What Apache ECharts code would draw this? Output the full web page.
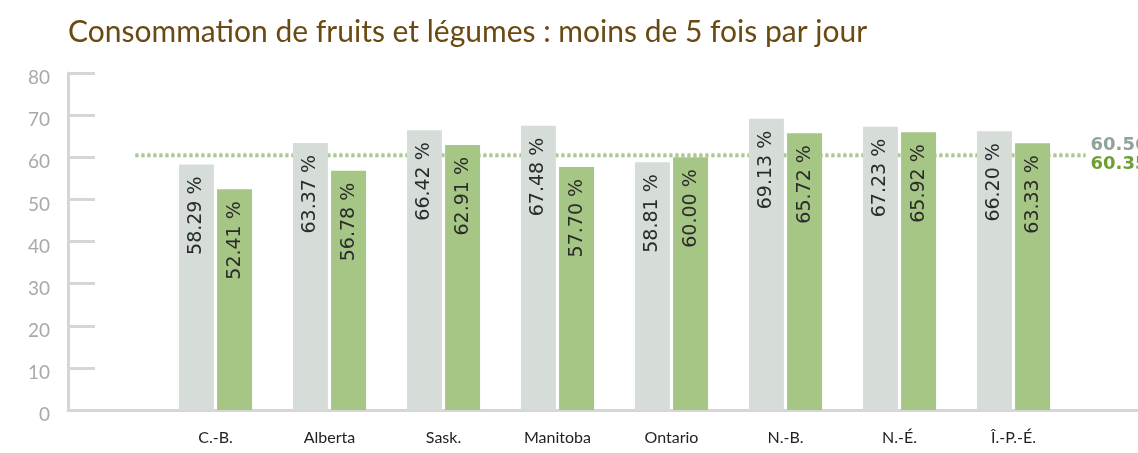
<!DOCTYPE html>
<html>
<head>
<meta charset="utf-8">
<script src="https://cdn.jsdelivr.net/npm/echarts@6/dist/echarts.min.js"></script>
<style>
	html, body { margin: 0; padding: 0; background: #fff; }
	#chart { width: 1138px; height: 453px; }
</style>
</head>
<body>
<div id="chart"></div>
<script>
	// data
	var provinces = ['', 'C.-B.', 'Alberta', 'Sask.', 'Manitoba', 'Ontario', 'N.-B.', 'N.-É.', 'Î.-P.-É.']
	var serieGrise = [null, 58.29, 63.37, 66.42, 67.48, 58.81, 69.13, 67.23, 66.20]
	var serieVerte = [null, 52.41, 56.78, 62.91, 57.70, 60.00, 65.72, 65.92, 63.33]
	var moyenneGrise = 60.56
	var moyenneVerte = 60.35
	var yMin = 0, yMax = 80, yStep = 10

	var titre = 'Consommation de fruits et légumes : moins de 5 fois par jour'

	var chart = echarts.init(document.getElementById('chart'))

	// bar labels, rotated, reading bottom to top
	function barLabel() {
		return {
			show: true,
			position: 'insideTop',
			rotate: 90,
			align: 'right',
			verticalAlign: 'middle',
			distance: 12,
			color: '#2b2b2b',
			fontSize: 19,
			fontFamily: 'DejaVu Sans',
			formatter: function (p) {
				return p.value.toFixed(2) + ' %'
			}
		}
	}

	// dotted average line, drawn over the plain grid (x from 0 to 1)
	var lineStart = 0.063, lineEnd = 0.951
	function avgLine(value, color, textColor, width, dy, z) {
		return {
			type: 'line',
			xAxisIndex: 1,
			yAxisIndex: 1,
			data: [[lineStart, value], [lineEnd, value]],
			symbol: 'none',
			silent: true,
			z: z,
			lineStyle: { color: color, width: width, type: [3, 3] },
			endLabel: {
				show: true,
				distance: 5,
				offset: [0, dy],
				color: textColor,
				fontWeight: 'bold',
				fontSize: 18,
				fontFamily: 'DejaVu Sans',
				formatter: function () { return value.toFixed(2) }
			}
		}
	}

	var option = {
		animation: false,
		backgroundColor: '#fff',
		title: {
			text: titre,
			left: 63,
			top: 12,
			textStyle: {
				color: '#6b4a12',
				fontSize: 30,
				fontWeight: 'normal',
				fontFamily: 'Lato'
			}
		},
		grid: [
			// bars
			{ left: 44.5, right: 67.5, top: 73, bottom: 43 },
			// axes frame
			{ left: 68, right: 0, top: 73, bottom: 43 }
		],
		xAxis: [{
			type: 'category',
			gridIndex: 0,
			data: provinces,
			axisLine: { show: false },
			axisTick: { show: false },
			axisLabel: { color: '#222', fontSize: 16, fontFamily: 'Lato', margin: 20 }
		}, {
			type: 'value',
			gridIndex: 1,
			min: 0,
			max: 1,
			axisLine: { show: true, lineStyle: { color: '#d6d6d6', width: 3 } },
			axisTick: { show: false },
			axisLabel: { show: false },
			splitLine: { show: false }
		}],
		yAxis: [{
			type: 'value',
			gridIndex: 0,
			min: yMin,
			max: yMax,
			interval: yStep,
			show: false
		}, {
			type: 'value',
			gridIndex: 1,
			min: yMin,
			max: yMax,
			interval: yStep,
			axisLine: { show: true, lineStyle: { color: '#d6d6d6', width: 3 } },
			axisTick: { show: true, inside: true, length: 27, lineStyle: { color: '#d6d6d6', width: 3 } },
			axisLabel: {
				color: '#a9a9a9', fontSize: 19, fontFamily: 'Lato', margin: 18,
				verticalAlign: 'top', lineHeight: 10
			},
			splitLine: { show: false }
		}],
		series: [
			avgLine(moyenneGrise, '#c5d3bd', '#8fa39b', 4, -10, 1),
			avgLine(moyenneVerte, '#a8c78a', '#6d9f35', 3, 9, 1),
			{
				type: 'bar',
				xAxisIndex: 0,
				yAxisIndex: 0,
				data: serieGrise,
				barWidth: 35,
				barGap: '9%',
				z: 3,
				itemStyle: { color: '#d6ddd9' },
				label: barLabel()
			},
			{
				type: 'bar',
				xAxisIndex: 0,
				yAxisIndex: 0,
				data: serieVerte,
				barWidth: 35,
				barGap: '9%',
				z: 3,
				itemStyle: { color: '#a6c686' },
				label: barLabel()
			}
		]
	}
	chart.setOption(option)
</script>
</body>
</html>
